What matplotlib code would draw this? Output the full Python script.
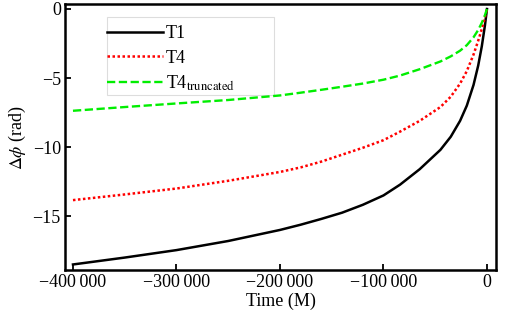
import matplotlib
matplotlib.use("Agg")
import matplotlib.pyplot as plt
from matplotlib.ticker import FuncFormatter, FixedLocator
from matplotlib.patches import Rectangle

plt.rcParams['font.family'] = ['Liberation Serif', 'DejaVu Serif']
plt.rcParams['mathtext.fontset'] = 'stix'

# Data
time = [-400000, -350000, -300000, -250000, -200000, -180000, -160000, -140000,
        -120000, -100000, -84000, -65000, -45000, -35000, -26000, -19500,
        -13000, -8500, -5000, -2000, 0]
dphi_T1 = [-18.5, -18.0, -17.46, -16.8, -16.0, -15.62, -15.2, -14.75,
           -14.18, -13.5, -12.72, -11.6, -10.2, -9.25, -8.1, -7.0,
           -5.5, -4.1, -2.7, -1.2, 0.0]
dphi_T4 = [-13.84, -13.43, -13.0, -12.44, -11.8, -11.47, -11.05, -10.55,
           -10.05, -9.5, -8.88, -8.1, -7.1, -6.35, -5.4, -4.5,
           -3.3, -2.3, -1.45, -0.6, 0.0]
dphi_T4t = [-7.37, -7.1, -6.84, -6.59, -6.26, -6.06, -5.85, -5.63,
            -5.4, -5.12, -4.82, -4.36, -3.8, -3.43, -3.02, -2.62,
            -2.05, -1.52, -1.0, -0.45, 0.0]

labels = ["T1", "T4", "T4$_{\\mathrm{truncated}}$"]
xticks = [-400000, -300000, -200000, -100000, 0]
yticks = [0, -5, -10, -15]

fig = plt.figure(figsize=(5.18, 3.22), dpi=100)
ax = fig.add_axes([0.1255, 0.1615, 0.832, 0.826])

ax.plot(time, dphi_T1, color='black', lw=1.8, label=labels[0])
ax.plot(time, dphi_T4, color='#ff0000', lw=1.8, ls=(0, (1, 1)), label=labels[1])
ax.plot(time, dphi_T4t, color='#00ee00', lw=1.7, ls=(0, (3.5, 1.5)), label=labels[2])

ax.set_xlim(-407700, 8700)
ax.set_ylim(-18.9, 0.36)

def fmt(v, pos):
    s = f"{abs(v):,.0f}".replace(",", "\u2009")
    return ("\u2212" + s) if v < 0 else s

ax.xaxis.set_major_locator(FixedLocator(xticks))
ax.yaxis.set_major_locator(FixedLocator(yticks))
ax.xaxis.set_major_formatter(FuncFormatter(fmt))
ax.yaxis.set_major_formatter(FuncFormatter(fmt))
ax.tick_params(direction='in', length=4, width=1.3, labelsize=13, pad=3,
               top=False, right=False)
for s in ax.spines.values():
    s.set_linewidth(1.8)

ax.set_xlabel("Time (M)", fontsize=13, labelpad=1)
ax.set_ylabel("$\\Delta\\phi$ (rad)", fontsize=13, labelpad=3)

ax.add_patch(Rectangle((0.0974, 0.658), 0.388, 0.293, transform=ax.transAxes,
                       fill=False, edgecolor='#dddddd', lw=0.8, zorder=1))
leg = ax.legend(loc='upper left', bbox_to_anchor=(0.0974, 0.92), fontsize=13,
                handlelength=3.1, handletextpad=0.15, labelspacing=0.4,
                borderaxespad=0, borderpad=0, frameon=False)

fig.savefig("out.png", dpi=100)
